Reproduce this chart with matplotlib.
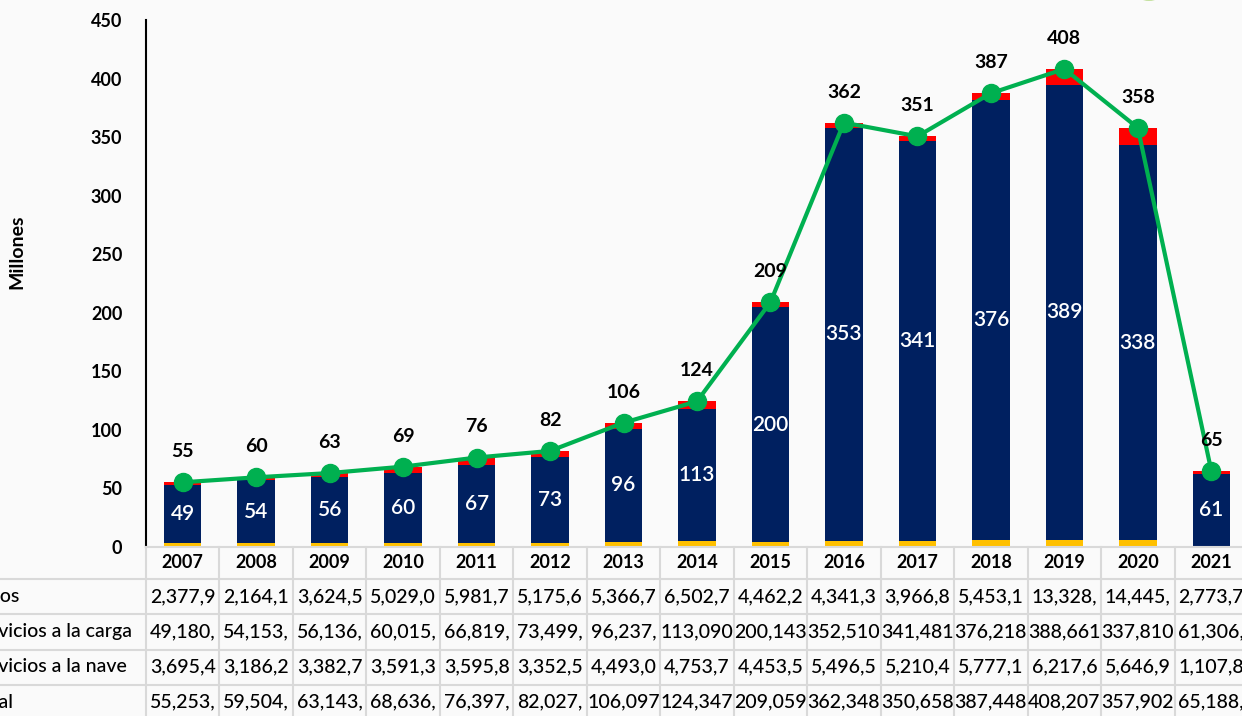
import matplotlib
matplotlib.use('Agg')
import matplotlib.pyplot as plt
import matplotlib.transforms as mtransforms
from matplotlib.patches import Ellipse
import numpy

plt.rcParams['font.family'] = ['Lato', 'DejaVu Sans']

years = ['2007', '2008', '2009', '2010', '2011', '2012', '2013', '2014',
         '2015', '2016', '2017', '2018', '2019', '2020', '2021']
# millones
otros = [2.3779, 2.1641, 3.6245, 5.0290, 5.9817, 5.1756, 5.3667, 6.5027,
         4.4622, 4.3413, 3.9668, 5.4531, 13.328, 14.445, 2.7737]
carga = [49.180, 54.153, 56.136, 60.015, 66.819, 73.499, 96.237, 113.090,
         200.143, 352.510, 341.481, 376.218, 388.661, 337.810, 61.306]
nave = [3.6954, 3.1862, 3.3827, 3.5913, 3.5958, 3.3525, 4.4930, 4.7537,
        4.4535, 5.4965, 5.2104, 5.7771, 6.2176, 5.6469, 1.1078]
total = [55.253, 59.504, 63.143, 68.636, 76.397, 82.027, 106.097, 124.347,
         209.059, 362.348, 350.658, 387.448, 408.207, 357.902, 65.188]

row_names = ['Otros', 'Servicios a la carga', 'Servicios a la nave', 'Total']
# texto tal como se ve en la tabla (celdas recortadas)
txt_otros = ['2,377,9', '2,164,1', '3,624,5', '5,029,0', '5,981,7', '5,175,6',
             '5,366,7', '6,502,7', '4,462,2', '4,341,3', '3,966,8', '5,453,1',
             '13,328,', '14,445,', '2,773,7']
txt_carga = ['49,180,', '54,153,', '56,136,', '60,015,', '66,819,', '73,499,',
             '96,237,', '113,090', '200,143', '352,510', '341,481', '376,218',
             '388,661', '337,810', '61,306,']
txt_nave = ['3,695,4', '3,186,2', '3,382,7', '3,591,3', '3,595,8', '3,352,5',
            '4,493,0', '4,753,7', '4,453,5', '5,496,5', '5,210,4', '5,777,1',
            '6,217,6', '5,646,9', '1,107,8']
txt_total = ['55,253,', '59,504,', '63,143,', '68,636,', '76,397,', '82,027,',
             '106,097', '124,347', '209,059', '362,348', '350,658', '387,448',
             '408,207', '357,902', '65,188,']

W, H = 1242, 716
bg = '#fafafa'
navy = '#002060'
red = '#ff0000'
yellow = '#ffc000'
green = '#00b050'
grid = '#d9d9d9'

fig = plt.figure(figsize=(W / 100, H / 100), dpi=100, facecolor=bg)
ax = fig.add_axes([146 / W, (H - 547) / H, 1102 / W, 527 / H])
ax.set_facecolor(bg)

x = numpy.arange(len(years))
bw = 0.51
ax.bar(x, nave, bw, color=yellow, zorder=2)
ax.bar(x, carga, bw, bottom=nave, color=navy, zorder=2)
bottom2 = [a + b for a, b in zip(nave, carga)]
ax.bar(x, otros, bw, bottom=bottom2, color=red, zorder=2)

ax.plot(x, total, color=green, linewidth=3, marker='o', markersize=13, zorder=4)

for i in range(len(years)):
    ax.text(x[i], nave[i] + carga[i] / 2, '%d' % round(carga[i]), color='white',
            ha='center', va='center', fontsize=15, fontweight='semibold', zorder=3)
    ax.annotate('%d' % round(total[i]), (x[i], total[i]), xytext=(0, 22),
                textcoords='offset points', ha='center', va='center',
                fontsize=14, fontweight='bold', color='black', zorder=5)

ax.set_xlim(-0.5, len(years) - 0.5)
ax.set_ylim(0, 450)
ax.set_yticks(range(0, 451, 50))
ax.set_xticks([])
ax.tick_params(axis='y', length=0, pad=17, labelsize=13)
for lab in ax.get_yticklabels():
    lab.set_fontweight('bold')
for s in ['top', 'right', 'bottom']:
    ax.spines[s].set_visible(False)
ax.spines['left'].set_linewidth(1.5)
ax.spines['left'].set_color('black')

fig.text(17 / W, 1 - 252 / H, 'Millones', rotation=90, ha='center', va='center',
         fontsize=14, fontweight='bold')

# tabla de datos
tr = mtransforms.blended_transform_factory(ax.transData, fig.transFigure)
def fy(p):
    return 1 - p / H

row_lines = [579, 614, 650, 685]
fig.add_artist(plt.Line2D([-0.5, 15], [fy(547), fy(547)], transform=tr,
                          color=grid, linewidth=1.5, clip_on=False))
for ry in row_lines:
    fig.add_artist(plt.Line2D([0, 1.01], [fy(ry), fy(ry)], transform=fig.transFigure,
                              color=grid, linewidth=1.5))
for i in range(len(years) + 1):
    fig.add_artist(plt.Line2D([i - 0.5, i - 0.5], [fy(547), fy(720)], transform=tr,
                              color=grid, linewidth=1.5))

for i in range(len(years)):
    fig.text(x[i], fy(563), years[i], transform=tr, ha='center', va='center',
             fontsize=13, fontweight='bold')
rows = [txt_otros, txt_carga, txt_nave, txt_total]
centers = [597, 632, 667, 702]
for r in range(4):
    fig.text(-30 / W, fy(centers[r]), row_names[r], ha='left', va='center',
             fontsize=14, fontweight='medium')
    for i in range(len(years)):
        fig.text(x[i], fy(centers[r]), rows[r][i], transform=tr, ha='center',
                 va='center', fontsize=14, fontweight='medium')

# trozo del logo arriba a la derecha
fig.add_artist(Ellipse((1149 / W, fy(-24)), 52 / W, 48 / H, transform=fig.transFigure,
                       color='#8cc63f', alpha=0.7))

fig.savefig('out.png', dpi=100, facecolor=bg)
